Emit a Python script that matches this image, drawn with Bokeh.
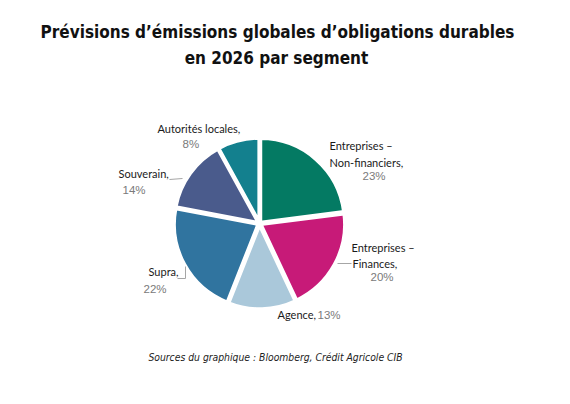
import numpy as np
from bokeh.plotting import figure
from bokeh.models import ColumnDataSource, Range1d
from bokeh.core.properties import value
from bokeh.embed import file_html
from bokeh.resources import INLINE

# ---- data ----
segments = ["Entreprises – Non-financiers", "Entreprises – Finances", "Agence",
            "Supra", "Souverain", "Autorités locales"]
shares = [23, 20, 13, 22, 14, 8]
colors = ["#047A63", "#C71A78", "#AAC8DA", "#30749F", "#4A5B8C", "#13808E"]
label_lines = [["Entreprises –", "Non-financiers,"], ["Entreprises –", "Finances,"],
               ["Agence,"], ["Supra,"], ["Souverain,"], ["Autorités locales,"]]
pct_labels = [f"{v}%" for v in shares]
title_lines = ["Prévisions d’émissions globales d’obligations durables", "en 2026 par segment"]
source_text = "Sources du graphique : Bloomberg, Crédit Agricole CIB"

W, H = 554, 388
def X(ix): return ix
def Y(iy): return H - iy

p = figure(width=W, height=H, output_backend="svg", toolbar_location=None,
           x_range=Range1d(0, W), y_range=Range1d(0, H), min_border=0)
p.axis.visible = False
p.grid.visible = False
p.outline_line_color = None
p.background_fill_color = "white"

# ---- pie ----
cx, cy, r = X(259), Y(223), 84
frac = np.array(shares, dtype=float) / sum(shares)
cum = np.concatenate([[0], np.cumsum(frac)])
start = np.pi / 2 - 2 * np.pi * cum[:-1]
end = np.pi / 2 - 2 * np.pi * cum[1:]
mid = (start + end) / 2
explode = 1.5
src = ColumnDataSource(dict(x=cx + explode * np.cos(mid), y=cy + explode * np.sin(mid),
                            start=start, end=end, color=colors))
p.wedge(x="x", y="y", radius=r, start_angle="start", end_angle="end", direction="clock",
        fill_color="color", line_color="white", line_width=3.5, source=src)

# ---- leader lines ----
lc = "#A6A6A6"
p.line([X(169), X(182)], [Y(179), Y(178)], line_color=lc, line_width=1)
p.line([X(177), X(185), X(185)], [Y(278), Y(278), Y(266)], line_color=lc, line_width=1)
p.line([X(337), X(351)], [Y(263), Y(263)], line_color=lc, line_width=1)

# ---- labels (layout positions, image coords) ----
name_pos = [[(329, 145), (329, 162)], [(351, 247), (352, 263)], [(277, 314)],
            [(148, 271)], [(118, 173)], [(157, 128)]]
pct_pos = [(362, 175), (370, 276), (317, 314), (143, 288), (122, 189), (182, 143)]

lx, ly, lt = [], [], []
for lines, poss in zip(label_lines, name_pos):
    for t, (ix, iy) in zip(lines, poss):
        lx.append(X(ix)); ly.append(Y(iy)); lt.append(t)
p.text(x=lx, y=ly, text=lt, text_font=value("Lato"), text_font_size="11px",
       text_color="#1a1a1a", text_baseline="middle", text_align="left")
p.text(x=[X(a) for a, b in pct_pos], y=[Y(b) for a, b in pct_pos], text=pct_labels,
       text_font=value("Liberation Sans"), text_font_size="11.5px", text_color="#7A7A7A",
       text_baseline="middle", text_align="left")

cond = "'DejaVu Sans Condensed', 'Liberation Sans', sans-serif"
# ---- title ----
p.text(x=[X(277), X(276)], y=[Y(31), Y(57)], text=title_lines,
       text_font=value(cond), text_font_style="bold",
       text_font_size="17px", text_color="#111111", text_align="center",
       text_baseline="middle")

# ---- source ----
p.text(x=[X(275)], y=[Y(356)], text=[source_text], text_font=value(cond),
       text_font_style="italic", text_font_size="10.3px", text_color="#222222",
       text_align="center", text_baseline="middle")

open("out.html", "w").write(file_html(p, INLINE))
